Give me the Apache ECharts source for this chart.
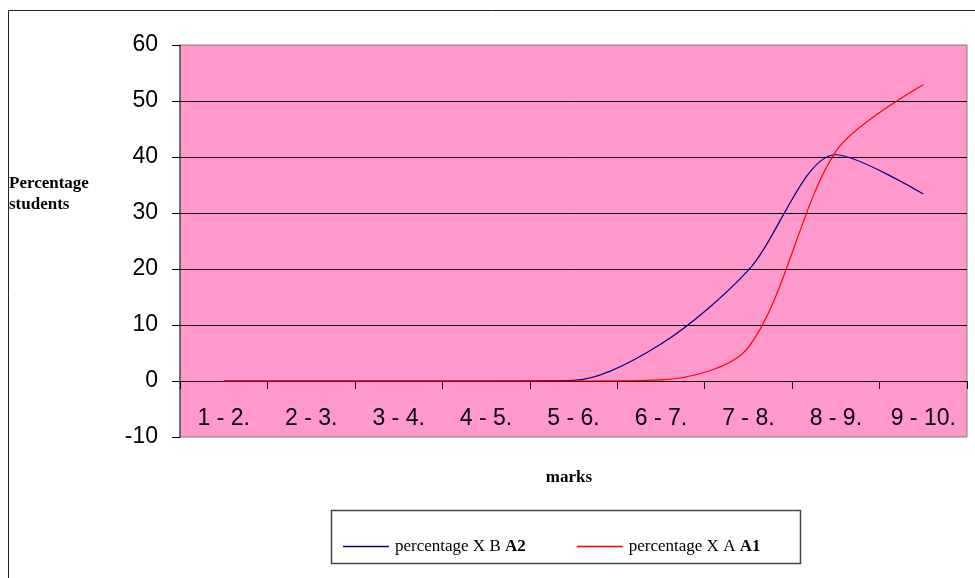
<!DOCTYPE html>
<html>
<head>
<meta charset="utf-8">
<script src="https://cdn.jsdelivr.net/npm/echarts@6/dist/echarts.min.js"></script>
<style>
html,body{margin:0;padding:0;background:#fff;}
#chart{width:975px;height:578px;}
</style>
</head>
<body>
<div id="chart"></div>
<script>
var categories = ['1 - 2.', '2 - 3.', '3 - 4.', '4 - 5.', '5 - 6.', '6 - 7.', '7 - 8.', '8 - 9.', '9 - 10.'];
var seriesNames = ['percentage X B A2', 'percentage X A A1'];
var valuesB_A2 = [0, 0, 0, 0, 0.1, 6.6, 19.8, 40.4, 33.4];
var valuesA_A1 = [0, 0, 0, 0, 0, 0.2, 6.0, 41.0, 52.9];
var yMin = -10, yMax = 60, yStep = 10;

var serif = '"Liberation Serif", "Times New Roman", serif';
var sans = '"Liberation Sans", Arial, sans-serif';

var chart = echarts.init(document.getElementById('chart'), null, {renderer: 'canvas'});
chart.setOption({
  animation: false,
  backgroundColor: '#ffffff',
  title: [
    {
      text: 'Percentage\nstudents',
      left: 9, top: 173, padding: 0,
      textStyle: {fontFamily: serif, fontWeight: 'bold', fontSize: 17, color: '#000', lineHeight: 21}
    },
    {
      text: 'marks',
      left: 569, top: 469, textAlign: 'center', padding: 0,
      textStyle: {fontFamily: serif, fontWeight: 'bold', fontSize: 17, color: '#000'}
    }
  ],
  graphic: [
    {type: 'rect', shape: {x: 8.5, y: 10.5, width: 1000, height: 600}, style: {fill: 'none', stroke: '#222', lineWidth: 1}, silent: true, z: -1},
    {type: 'rect', shape: {x: 331.5, y: 510.5, width: 469, height: 53}, style: {fill: '#fff', stroke: '#444', lineWidth: 1.5}, silent: true, z: 0}
  ],
  legend: {
    left: 343, top: 538, padding: 0,
    itemWidth: 46, itemHeight: 1.5, itemGap: 51,
    icon: 'rect',
    data: seriesNames,
    formatter: function (name) {
      var parts = name.split(' ');
      var last = parts.pop();
      return '{n|' + parts.join(' ') + ' }{b|' + last + '}';
    },
    textStyle: {
      padding: [0, 0, 0, 1],
      rich: {
        n: {fontFamily: serif, fontSize: 17, color: '#000'},
        b: {fontFamily: serif, fontSize: 17, fontWeight: 'bold', color: '#000'}
      }
    },
    z: 5
  },
  grid: {
    left: 180, top: 45, right: 8, bottom: 141,
    show: true, backgroundColor: '#FF99CC', borderColor: '#808080', borderWidth: 1,
    containLabel: false
  },
  xAxis: {
    type: 'category',
    data: categories,
    boundaryGap: true,
    axisLine: {show: true, onZero: true, lineStyle: {color: '#000', width: 1}},
    axisTick: {show: true, length: 8, lineStyle: {color: '#000'}},
    axisLabel: {margin: -30, fontFamily: sans, fontSize: 23, color: '#000'},
    splitLine: {show: false}
  },
  yAxis: {
    type: 'value',
    min: yMin, max: yMax, interval: yStep,
    axisLine: {show: true, onZero: false, lineStyle: {color: '#555', width: 1.5}},
    axisTick: {show: true, length: 8, lineStyle: {color: '#000'}},
    axisLabel: {margin: 22, fontFamily: sans, fontSize: 23, color: '#000'},
    splitLine: {show: true, showMinLine: false, showMaxLine: false, lineStyle: {color: '#000', width: 1}}
  },
  series: [
    {
      name: seriesNames[0], type: 'line', data: valuesB_A2, smooth: 0.3,
      showSymbol: false, color: '#000080',
      lineStyle: {color: '#000080', width: 1.2}, z: 3
    },
    {
      name: seriesNames[1], type: 'line', data: valuesA_A1, smooth: 0.3,
      showSymbol: false, color: '#FF0000',
      lineStyle: {color: '#FF0000', width: 1.2}, z: 3
    }
  ]
});
</script>
</body>
</html>
